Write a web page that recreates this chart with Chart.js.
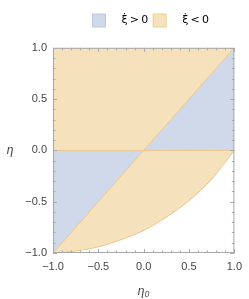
<!DOCTYPE html>
<html>
<head>
<meta charset="utf-8">
<script src="https://cdn.jsdelivr.net/npm/chart.js@4.4.1/dist/chart.umd.min.js"></script>
<style>
  html, body { margin: 0; padding: 0; background: #fff; }
  #wrap { width: 249px; height: 299px; }
</style>
</head>
<body>
<div id="wrap"><canvas id="regionChart"></canvas></div>
<script>
// grade de eta0 usada por todas as fronteiras
const eta0Values = [-1, -0.75, -0.5, -0.25, 0, 0.25, 0.5, 0.75, 1];
// borda superior (eta = 1)
const topEdge = [1, 1, 1, 1, 1, 1, 1, 1, 1];
// fronteira eta = max(0, eta0)
const upperSplit = [0, 0, 0, 0, 0, 0.25, 0.5, 0.75, 1];
// fronteira eta = min(0, eta0)
const lowerSplit = [-1, -0.75, -0.5, -0.25, 0, 0, 0, 0, 0];
// curva inferior
const lowerCurve = [-1, -0.98, -0.94, -0.87, -0.78, -0.65, -0.49, -0.28, 0];
const tickValues = [-1, -0.5, 0, 0.5, 1];
const legendLabels = ['ξ̇\u2009>\u20090', 'ξ̇\u2009<\u20090'];

const blueFill = '#cfd9ea';
const orangeFill = '#f6e1bd';
const edgeColor = '#ebc68c';

function toPoints(values) {
  return eta0Values.map((x, i) => ({ x: x, y: values[i] }));
}

function formatTick(v) {
  return v.toFixed(1).replace('-', '\u2212');
}

// moldura com marcas para dentro, e o rótulo eta na vertical
const frameTicks = {
  id: 'frameTicks',
  afterLayout(chart) {
    // desloca a legenda um pouco para a direita, como no original
    if (chart.legend) {
      chart.legend.left += 7;
      chart.legend.right += 7;
    }
  },
  afterDatasetsDraw(chart) {
    const { ctx, chartArea: a, scales: { x, y } } = chart;
    ctx.save();
    ctx.strokeStyle = '#a8a8a8';
    ctx.lineWidth = 1;
    ctx.strokeRect(a.left + 0.5, a.top + 0.5, a.width - 1, a.height - 1);
    for (let i = -10; i <= 10; i++) {
      const v = i / 10;
      const len = i % 5 === 0 ? 4 : 2.5;
      const px = Math.round(x.getPixelForValue(v)) + 0.5;
      const py = Math.round(y.getPixelForValue(v)) + 0.5;
      ctx.beginPath();
      ctx.moveTo(px, a.bottom); ctx.lineTo(px, a.bottom - len);
      ctx.moveTo(px, a.top); ctx.lineTo(px, a.top + len);
      ctx.moveTo(a.left, py); ctx.lineTo(a.left + len, py);
      ctx.moveTo(a.right, py); ctx.lineTo(a.right - len, py);
      ctx.stroke();
    }
    ctx.fillStyle = '#444';
    ctx.font = 'italic 12px "Liberation Sans"';
    ctx.textAlign = 'center';
    ctx.textBaseline = 'middle';
    ctx.fillText('η', 10, y.getPixelForValue(0));
    ctx.restore();
  }
};

const ctx = document.getElementById('regionChart').getContext('2d');
new Chart(ctx, {
  type: 'line',
  data: {
    datasets: [
      { data: toPoints(topEdge), fill: '+1', backgroundColor: orangeFill, borderWidth: 0 },
      { data: toPoints(upperSplit), fill: '+1', backgroundColor: blueFill, borderColor: edgeColor, borderWidth: 1 },
      { data: toPoints(lowerSplit), fill: '+1', backgroundColor: orangeFill, borderColor: edgeColor, borderWidth: 1 },
      { data: toPoints(lowerCurve), fill: false, borderColor: edgeColor, borderWidth: 1, cubicInterpolationMode: 'monotone' }
    ]
  },
  options: {
    responsive: true,
    maintainAspectRatio: false,
    animation: false,
    events: [],
    elements: { point: { radius: 0 } },
    layout: { padding: { left: 0, right: 11, top: 9, bottom: 0 } },
    scales: {
      x: {
        type: 'linear',
        min: -1,
        max: 1,
        afterBuildTicks: (s) => { s.ticks = tickValues.map((v) => ({ value: v })); },
        afterFit: (s) => { s.height = 46; },
        grid: { display: false, drawTicks: false },
        border: { display: false },
        ticks: { padding: 7, color: '#444', font: { family: 'Liberation Sans', size: 11 }, maxRotation: 0, callback: (v) => formatTick(v) },
        title: { display: true, text: 'η₀', color: '#444', font: { family: 'Liberation Sans', size: 12, style: 'italic' }, padding: { top: 12, bottom: 0 } }
      },
      y: {
        type: 'linear',
        min: -1,
        max: 1,
        afterBuildTicks: (s) => { s.ticks = tickValues.map((v) => ({ value: v })); },
        afterFit: (s) => { s.width = 53; },
        grid: { display: false, drawTicks: false },
        border: { display: false },
        ticks: { padding: 6, color: '#444', font: { family: 'Liberation Sans', size: 11 }, callback: (v) => formatTick(v) }
      }
    },
    plugins: {
      filler: { drawTime: 'beforeDatasetsDraw' },
      tooltip: { enabled: false },
      // título vazio só como espaçador entre a legenda e o gráfico
      title: { display: true, text: '', weight: 500, fullSize: false, padding: 0, font: { size: 9 } },
      legend: {
        position: 'top',
        fullSize: false,
        labels: {
          boxWidth: 13,
          boxHeight: 13,
          padding: 5,
          color: '#333',
          font: { family: 'DejaVu Sans', size: 11 },
          generateLabels: () => [
            { text: '   ' + legendLabels[0], fillStyle: blueFill, strokeStyle: '#b9c7df', lineWidth: 1 },
            { text: '   ' + legendLabels[1], fillStyle: orangeFill, strokeStyle: '#efcd93', lineWidth: 1 }
          ]
        }
      }
    }
  },
  plugins: [frameTicks]
});
</script>
</body>
</html>
